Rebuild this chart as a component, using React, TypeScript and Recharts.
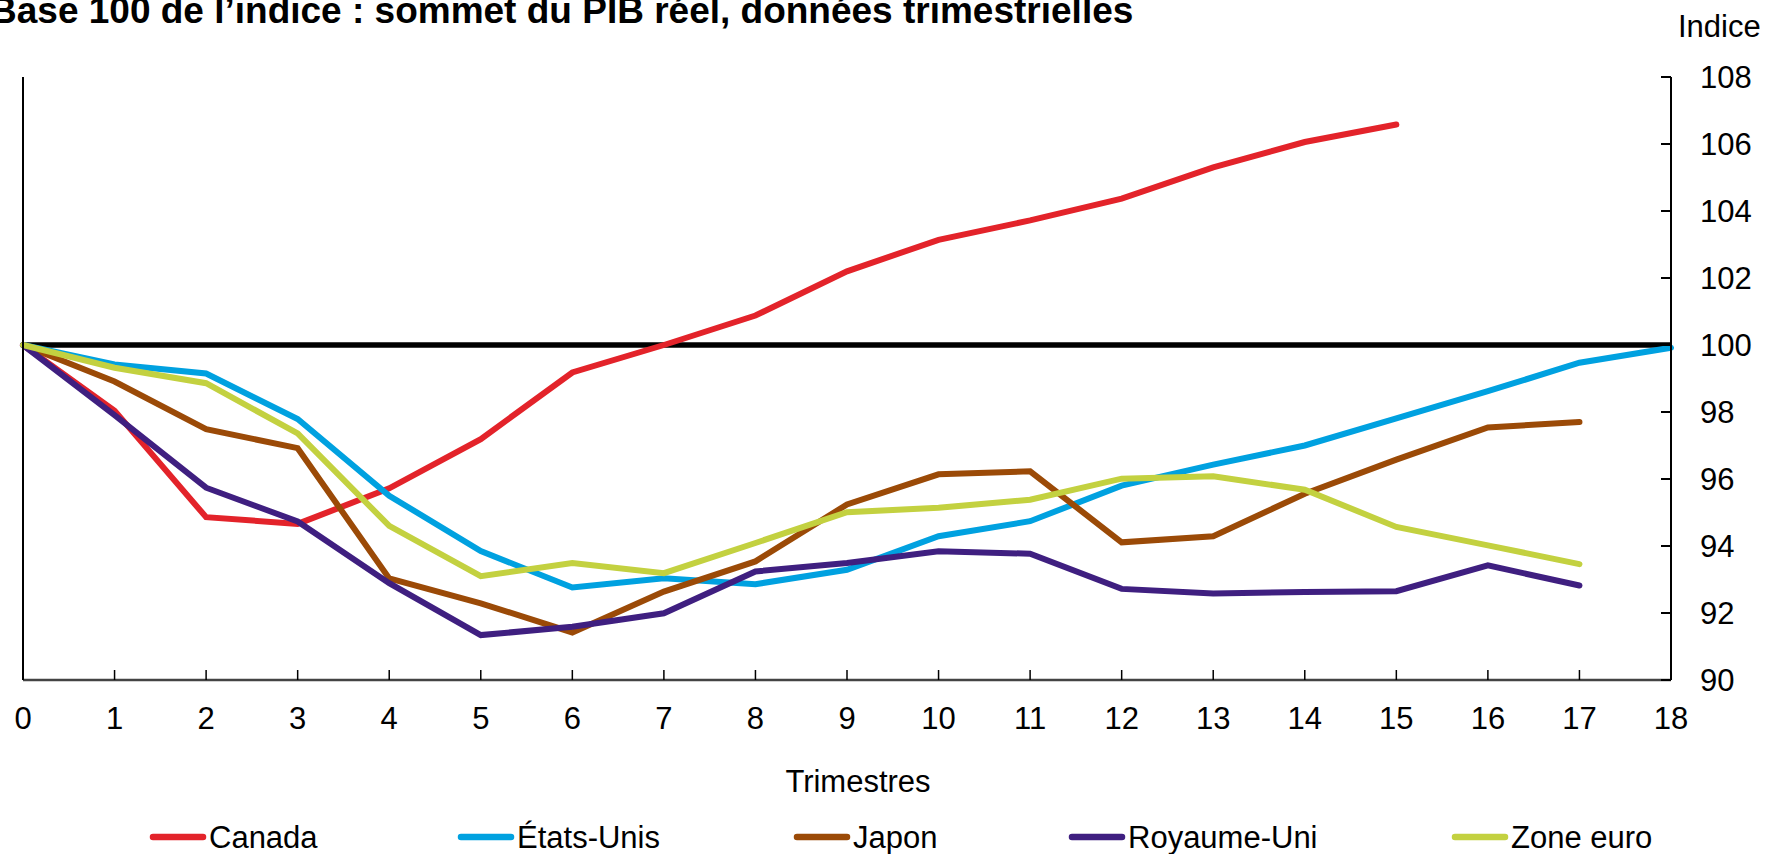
import { LineChart, Line, XAxis, YAxis, ReferenceLine } from "recharts";

// trimestres depuis le sommet du PIB réel
const quarters = [0, 1, 2, 3, 4, 5, 6, 7, 8, 9, 10, 11, 12, 13, 14, 15, 16, 17, 18];
const yTicks = [90, 92, 94, 96, 98, 100, 102, 104, 106, 108];

const canada = [100, 98.04, 94.86, 94.66, 95.72, 97.19, 99.18, 100.0, 100.88, 102.2, 103.14, 103.72, 104.37, 105.3, 106.06, 106.58];
const etatsUnis = [100, 99.42, 99.15, 97.79, 95.5, 93.85, 92.76, 93.04, 92.86, 93.29, 94.29, 94.74, 95.8, 96.43, 97.0, 97.81, 98.62, 99.47, 99.92];
const japon = [100, 98.91, 97.49, 96.92, 93.03, 92.29, 91.42, 92.64, 93.54, 95.24, 96.14, 96.23, 94.11, 94.29, 95.56, 96.58, 97.54, 97.7];
const royaumeUni = [100, 97.91, 95.74, 94.73, 92.89, 91.34, 91.59, 91.99, 93.24, 93.49, 93.84, 93.77, 92.72, 92.58, 92.63, 92.65, 93.42, 92.82];
const zoneEuro = [100, 99.32, 98.86, 97.36, 94.6, 93.1, 93.49, 93.19, 94.09, 95.01, 95.14, 95.38, 96.01, 96.08, 95.68, 94.57, 94.02, 93.46];

const series = [
  { key: "canada", name: "Canada", color: "#E3232A", values: canada },
  { key: "etatsUnis", name: "États-Unis", color: "#00A1E0", values: etatsUnis },
  { key: "japon", name: "Japon", color: "#9B4A07", values: japon },
  { key: "royaumeUni", name: "Royaume-Uni", color: "#3F1F80", values: royaumeUni },
  { key: "zoneEuro", name: "Zone euro", color: "#C3D140", values: zoneEuro },
];

const data = quarters.map((q, i) => {
  const row: Record<string, number | undefined> = { q };
  series.forEach((s) => {
    row[s.key] = s.values[i];
  });
  return row;
});

const W = 1766;
const H = 854;
const FONT = "'Liberation Sans', Arial, sans-serif";
const PLOT_LEFT = 23;
const PLOT_RIGHT = 1671;
const PLOT_BOTTOM = 680;
const legendX = [150, 458, 794, 1069, 1452];

const RightTick = (props: any) => {
  const { y, payload } = props;
  return (
    <g>
      <line x1={PLOT_RIGHT - 10} x2={PLOT_RIGHT} y1={y} y2={y} stroke="#000" strokeWidth={2} />
      <text x={PLOT_RIGHT + 29} y={y + 11} fontSize={31} fontFamily={FONT} fill="#000">
        {payload.value}
      </text>
    </g>
  );
};

const LeftTick = (props: any) => {
  const { y } = props;
  return <line x1={PLOT_LEFT} x2={PLOT_LEFT + 10} y1={y} y2={y} stroke="#000" strokeWidth={2} />;
};

const BottomTick = (props: any) => {
  const { x, payload } = props;
  return (
    <g>
      <line x1={x} x2={x} y1={PLOT_BOTTOM - 10} y2={PLOT_BOTTOM} stroke="#000" strokeWidth={1.5} />
      <text x={x} y={729} textAnchor="middle" fontSize={31} fontFamily={FONT} fill="#000">
        {payload.value}
      </text>
    </g>
  );
};

export default function App() {
  return (
    <div style={{ position: "absolute", left: 0, top: 0, width: W, height: H, background: "#fff", overflow: "hidden" }}>
      <LineChart width={W} height={H} data={data} margin={{ top: 77, right: 0, bottom: 0, left: 0 }}>
        <XAxis
          dataKey="q"
          type="number"
          domain={[0, 18]}
          ticks={quarters}
          height={174}
          tickLine={false}
          axisLine={{ stroke: "#444", strokeWidth: 2.5 }}
          tick={<BottomTick />}
          interval={0}
        />
        <YAxis
          yAxisId="left"
          orientation="left"
          width={23}
          domain={[90, 108]}
          ticks={yTicks}
          tickLine={false}
          axisLine={{ stroke: "#000", strokeWidth: 2 }}
          tick={<LeftTick />}
          interval={0}
        />
        <YAxis
          yAxisId="right"
          orientation="right"
          width={95}
          domain={[90, 108]}
          ticks={yTicks}
          tickLine={false}
          axisLine={{ stroke: "#000", strokeWidth: 2 }}
          tick={<RightTick />}
          interval={0}
        />
        <ReferenceLine yAxisId="right" y={100} stroke="#000" strokeWidth={5.5} />
        {series.map((s) => (
          <Line
            key={s.key}
            yAxisId="right"
            type="linear"
            dataKey={s.key}
            name={s.name}
            stroke={s.color}
            strokeWidth={6}
            strokeLinecap="round"
            dot={false}
            activeDot={false}
            isAnimationActive={false}
          />
        ))}
      </LineChart>
      <svg width={W} height={H} style={{ position: "absolute", left: 0, top: 0, pointerEvents: "none" }}>
        <text x={-10} y={23} fontSize={37} fontWeight="bold" fontFamily={FONT} fill="#000">
          Base 100 de l’indice : sommet du PIB réel, données trimestrielles
        </text>
        <text x={1678} y={37} fontSize={31} fontFamily={FONT} fill="#000">
          Indice
        </text>
        <text x={858} y={792} textAnchor="middle" fontSize={31} fontFamily={FONT} fill="#000">
          Trimestres
        </text>
        {series.map((s, i) => (
          <g key={s.key}>
            <line
              x1={legendX[i] + 3}
              x2={legendX[i] + 53}
              y1={837}
              y2={837}
              stroke={s.color}
              strokeWidth={6.5}
              strokeLinecap="round"
            />
            <text x={legendX[i] + 59} y={848} fontSize={31} fontFamily={FONT} fill="#000">
              {s.name}
            </text>
          </g>
        ))}
      </svg>
    </div>
  );
}
